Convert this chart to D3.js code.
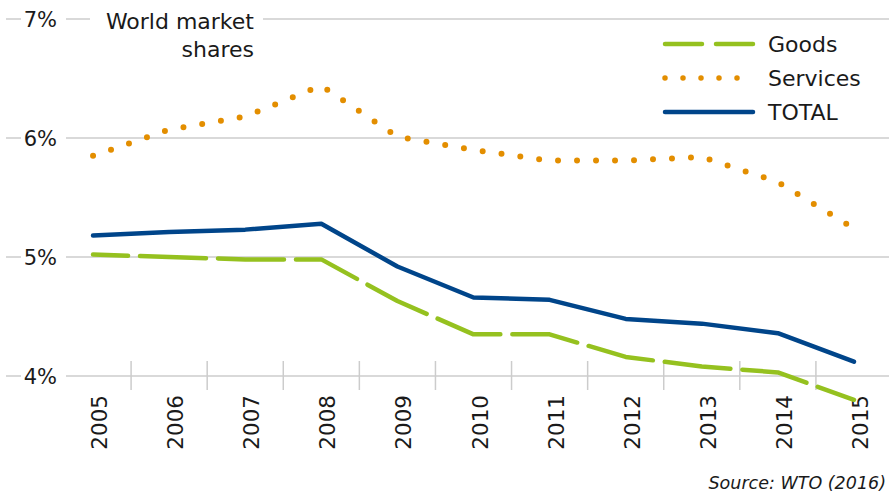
<!DOCTYPE html>
<html>
<head>
<meta charset="utf-8">
<script src="https://cdn.jsdelivr.net/npm/d3@7"></script>
<style>
  body { margin: 0; background: #fff; }
  text { font-family: "DejaVu Sans", sans-serif; fill: #1a1a1a; }
</style>
</head>
<body>
<div id="chart"></div>
<script>
// Data (market shares, %)
const years = ["2005", "2006", "2007", "2008", "2009", "2010", "2011", "2012", "2013", "2014", "2015"];
const goods = [5.02, 5.00, 4.98, 4.98, 4.63, 4.35, 4.35, 4.16, 4.08, 4.03, 3.80];
const services = [5.85, 6.07, 6.18, 6.44, 6.01, 5.90, 5.81, 5.81, 5.84, 5.63, 5.24];
const total = [5.18, 5.21, 5.23, 5.28, 4.92, 4.66, 4.64, 4.48, 4.44, 4.36, 4.12];
const yTicks = [4, 5, 6, 7];

const W = 889, H = 493;

const svg = d3.select("#chart")
    .append("svg")
    .attr("width", W)
    .attr("height", H);

// Scales
const x = d3.scaleBand()
    .domain(years)
    .range([55, 892])
    .padding(0);

const y = d3.scaleLinear()
    .domain([4, 7])
    .range([376, 19]);

const grid = "#cccccc";

// Horizontal gridlines with short stub on the left
yTicks.forEach(t => {
    svg.append("line")
        .attr("x1", 6).attr("x2", 21)
        .attr("y1", y(t)).attr("y2", y(t))
        .attr("stroke", grid).attr("stroke-width", 1.5);
    svg.append("line")
        .attr("x1", 66).attr("x2", W)
        .attr("y1", y(t)).attr("y2", y(t))
        .attr("stroke", grid).attr("stroke-width", 1.5);
    svg.append("text")
        .attr("x", 57)
        .attr("y", y(t) + 8)
        .attr("text-anchor", "end")
        .style("font-size", "21px")
        .text(t + "%");
});

// Category separators below the 4% line
years.slice(1).forEach(yr => {
    svg.append("line")
        .attr("x1", x(yr)).attr("x2", x(yr))
        .attr("y1", y(4) - 15).attr("y2", y(4) + 14)
        .attr("stroke", grid).attr("stroke-width", 1.5);
});

// Year labels, rotated
years.forEach(yr => {
    const cx = x(yr) + x.bandwidth() / 2;
    svg.append("text")
        .attr("transform", `translate(${cx + 14},395) rotate(-90)`)
        .attr("text-anchor", "end")
        .style("font-size", "21.5px")
        .text(yr);
});

// Title with white backing that breaks the 7% gridline
svg.append("rect")
    .attr("x", 90).attr("y", 8)
    .attr("width", 173).attr("height", 24)
    .attr("fill", "#fff");
const title = svg.append("text")
    .attr("text-anchor", "end")
    .style("font-size", "22px");
title.append("tspan").attr("x", 254).attr("y", 29).text("World market");
title.append("tspan").attr("x", 254).attr("y", 57).text("shares");

// Lines
const line = d3.line()
    .x((d, i) => x(years[i]) + x.bandwidth() / 2)
    .y(d => y(d))
    .curve(d3.curveLinear);

const series = [
    { name: "Goods", values: goods, color: "#95c11f", dash: "66 12", offset: 31, width: 4.5 },
    { name: "Services", values: services, color: "#e38e00", dash: "0 19", offset: 0, width: 6 },
    { name: "TOTAL", values: total, color: "#00458a", dash: null, offset: 0, width: 4.5 }
];

series.forEach(s => {
    svg.append("path")
        .datum(s.values)
        .attr("d", line)
        .attr("fill", "none")
        .attr("stroke", s.color)
        .attr("stroke-width", s.width)
        .attr("stroke-linecap", "round")
        .attr("stroke-linejoin", "round")
        .attr("stroke-dasharray", s.dash)
        .attr("stroke-dashoffset", s.offset);
});

// Legend
const legend = svg.append("g").attr("id", "legend");
const legendDash = { "Goods": "37 14", "Services": "0 18", "TOTAL": null };
series.forEach((s, i) => {
    const ly = 44 + i * 34;
    legend.append("line")
        .attr("x1", 665).attr("x2", 753)
        .attr("y1", ly).attr("y2", ly)
        .attr("stroke", s.color)
        .attr("stroke-width", s.name === "Services" ? 5.5 : 4.5)
        .attr("stroke-linecap", "round")
        .attr("stroke-dasharray", legendDash[s.name]);
    legend.append("text")
        .attr("x", 768)
        .attr("y", ly + 8)
        .style("font-size", "22px")
        .text(s.name);
});

// Source
svg.append("text")
    .attr("x", 886)
    .attr("y", 489)
    .attr("text-anchor", "end")
    .style("font-size", "17.5px")
    .style("font-style", "italic")
    .text("Source: WTO (2016)");
</script>
</body>
</html>
